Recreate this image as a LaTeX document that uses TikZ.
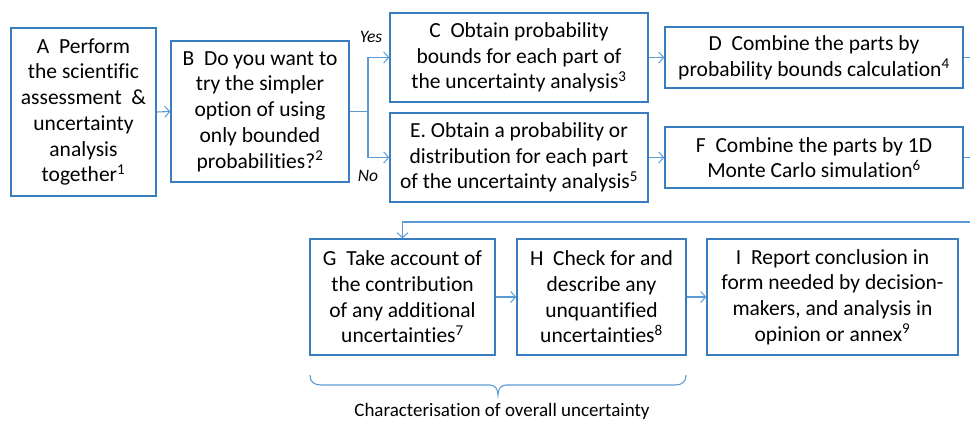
\documentclass[tikz,border=0pt]{standalone}
\usepackage{fontspec}
\setmainfont{Carlito}[Ligatures={NoCommon,NoContextual}]
\usetikzlibrary{arrows.meta}
\definecolor{boxblue}{RGB}{58,124,192}
\definecolor{lineblue}{RGB}{91,155,213}
\tikzset{
  box/.style={draw=boxblue, line width=1.3pt, fill=white, align=center, inner sep=0pt,
    font={\fontsize{21.5}{25.7}\selectfont}},
  conn/.style={draw=lineblue, line width=1.1pt},
  arr/.style={conn, -{Straight Barb[length=5pt,width=11pt,line width=1pt]}},
  lab/.style={font={\fontsize{17.5}{20}\selectfont\itshape}, inner sep=0pt},
}
\begin{document}
\begin{tikzpicture}[x=1pt,y=-1pt]
\useasboundingbox (0,0) rectangle (970,421);
\node[box, minimum width=145, minimum height=168] (A) at (83.5,112)
  {A~~Perform\\the scientific\\assessment ~\&\\uncertainty\\analysis\\together\textsuperscript{1}};
\node[box, minimum width=178, minimum height=141] (B) at (260,111.5)
  {B~~Do you want to\\try the simpler\\option of using\\only bounded\\probabilities?\textsuperscript{2}};
\node[box, minimum width=258, minimum height=89] (C) at (519,57.5)
  {C~~Obtain probability\\bounds for each part of\\the uncertainty analysis\textsuperscript{3}};
\node[box, minimum width=258, minimum height=89] (E) at (519,157.5)
  {E. Obtain a probability or\\distribution for each part\\of the uncertainty analysis\textsuperscript{5}};
\node[box, minimum width=298, minimum height=61] (D) at (814,57.5)
  {D~~Combine the parts by\\probability bounds calculation\textsuperscript{4}};
\node[box, minimum width=298, minimum height=61] (F) at (814,157.5)
  {F~~Combine the parts by 1D\\Monte Carlo simulation\textsuperscript{6}};
\node[box, minimum width=185, minimum height=116] (G) at (402.5,297)
  {G~~Take account of\\the contribution\\of any additional\\uncertainties\textsuperscript{7}};
\node[box, minimum width=169, minimum height=116] (H) at (601.5,297)
  {H~~Check for and\\describe any\\unquantified\\uncertainties\textsuperscript{8}};
\node[box, minimum width=251, minimum height=116] (I) at (832.5,297)
  {I~~Report conclusion in\\form needed by decision-\\makers, and analysis in\\opinion or annex\textsuperscript{9}};
\node[lab] (yes) at (371,37) {Yes};
\node[lab] (no) at (368,176) {No};
\node[font={\fontsize{19}{22}\selectfont}, inner sep=0pt] (char) at (502,411) {Characterisation of overall uncertainty};
\coordinate (br) at (368,111.5);
\coordinate (rD) at (970,57.5);
\coordinate (rF) at (970,157.5);
\coordinate (rG) at (970,222);
\draw[arr] (A.east) -- (B.west);
\draw[conn] (B.east) -- (br);
\draw[arr] (br) |- (C.west);
\draw[arr] (br) |- (E.west);
\draw[arr] (C.east) -- (D.west);
\draw[arr] (E.east) -- (F.west);
\draw[conn] (D.east) -- (rD);
\draw[conn] (F.east) -- (rF);
\draw[arr] (rG) -| (G.north);
\draw[arr] (G.east) -- (H.west);
\draw[arr] (H.east) -- (I.west);
\draw[draw=lineblue, line width=1.1pt]
  (310,375) .. controls (310,382) and (314,385) .. (321,385)
  -- (490,385) .. controls (495,385) and (498,389) .. (498,395)
  .. controls (498,389) and (501,385) .. (506,385)
  -- (675,385) .. controls (682,385) and (686,382) .. (686,375);
\end{tikzpicture}
\end{document}
